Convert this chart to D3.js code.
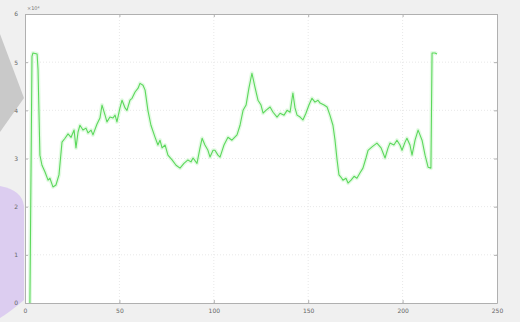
<!DOCTYPE html>
<html><head><meta charset="utf-8">
<script src="https://cdn.jsdelivr.net/npm/d3@7"></script>
<style>html,body{margin:0;padding:0;background:#f0f0f0;}svg{display:block;}</style>
</head><body>
<script>
const xTicks = [0, 50, 100, 150, 200, 250];
const yTicks = [0, 1, 2, 3, 4, 5, 6];
const yExponent = "×10⁴";
const xs = [2.6,3.7,4.2,6.4,6.9,7.9,9.0,10.6,12.2,13.2,14.8,16.4,18.0,19.6,21.2,22.8,24.4,26.0,27.0,28.1,
 29.1,30.7,32.3,33.4,35.0,36.0,38.1,39.7,40.8,42.4,43.4,45.0,46.6,47.7,48.7,50.3,51.4,53.0,54.0,55.6,
 56.7,58.3,59.9,60.9,62.5,63.6,65.1,66.7,68.9,70.4,71.5,72.6,74.2,75.7,77.9,80.0,82.1,84.2,86.3,87.9,
 89.0,91.1,92.7,93.8,95.3,96.9,98.0,99.6,100.6,102.2,103.3,105.4,107.5,109.6,112.3,113.9,115.5,117.1,118.6,120.2,
 121.8,123.4,125.0,126.1,127.6,129.8,131.4,133.5,135.1,137.2,138.8,140.4,141.9,143.0,144.1,145.7,147.2,148.8,150.4,152.0,
 153.6,155.2,156.3,158.4,160.0,161.5,163.1,164.2,165.3,166.3,167.4,168.4,170.0,171.1,172.7,174.3,175.8,177.4,179.0,180.6,
 181.7,183.8,186.4,188.6,190.7,192.3,193.3,195.4,197.0,198.6,199.7,201.3,202.3,203.9,205.0,206.6,208.2,209.2,210.3,211.9,
 213.5,215.0,215.6,217.2,218.2];
const ys = [0,5.12,5.19,5.17,4.85,3.07,2.86,2.72,2.55,2.59,2.41,2.45,2.66,3.34,3.42,3.51,3.44,3.59,3.22,3.55,
 3.69,3.59,3.63,3.53,3.59,3.49,3.71,3.84,4.11,3.90,3.76,3.86,3.84,3.90,3.76,4.05,4.21,4.05,4.00,4.21,
 4.25,4.38,4.46,4.56,4.52,4.42,4.00,3.69,3.44,3.28,3.38,3.22,3.28,3.07,2.97,2.86,2.80,2.90,2.97,2.93,
 3.01,2.90,3.22,3.42,3.28,3.17,3.03,3.17,3.17,3.07,3.03,3.28,3.44,3.38,3.49,3.69,4.00,4.11,4.46,4.77,
 4.48,4.21,4.11,3.94,4.00,4.07,3.96,3.86,3.94,3.90,4.00,3.96,4.36,4.05,3.90,3.86,3.80,3.94,4.11,4.25,
 4.17,4.21,4.15,4.11,4.07,3.90,3.69,3.38,2.97,2.66,2.61,2.55,2.59,2.49,2.55,2.63,2.59,2.70,2.80,3.01,
 3.17,3.24,3.32,3.22,3.01,3.22,3.32,3.28,3.38,3.28,3.17,3.34,3.42,3.28,3.07,3.38,3.59,3.49,3.38,3.07,
 2.82,2.80,5.19,5.19,5.17];

const W = 520, H = 322;
const svg = d3.select("body").append("svg").attr("width", W).attr("height", H);
svg.append("rect").attr("width", W).attr("height", H).attr("fill", "#f0f0f0");
// decorative shapes at the left edge of the screenshot
svg.append("path").attr("d", "M0,34 L24,98 L0,132 Z").attr("fill", "#c9c9c9");
svg.append("path").attr("d", "M0,186 Q22,190 24,206 L24,300 Q10,312 0,318 Z").attr("fill", "#dccdf0");

const m = {l: 25, r: 23, t: 14, b: 19};
const x = d3.scaleLinear().domain([0, 250]).range([m.l, W - m.r]);
const y = d3.scaleLinear().domain([0, 6]).range([H - m.b, m.t]);

svg.append("rect").attr("x", m.l).attr("y", m.t).attr("width", x(250) - x(0)).attr("height", y(0) - y(6))
  .attr("fill", "#ffffff");

// grid
svg.append("g").selectAll("line").data(xTicks.slice(1, -1)).join("line")
  .attr("x1", d => x(d)).attr("x2", d => x(d)).attr("y1", y(0)).attr("y2", y(6))
  .attr("stroke", "#e8e8e8").attr("stroke-width", 1).attr("stroke-dasharray", "1,2");
svg.append("g").selectAll("line").data(yTicks.slice(1, -1)).join("line")
  .attr("x1", x(0)).attr("x2", x(250)).attr("y1", d => y(d)).attr("y2", d => y(d))
  .attr("stroke", "#e8e8e8").attr("stroke-width", 1).attr("stroke-dasharray", "1,2");

// axes
const axStyle = g => {
  g.selectAll(".domain").attr("stroke", "#b0b0b0");
  g.selectAll(".tick line").attr("stroke", "#b0b0b0");
  g.selectAll(".tick text").attr("fill", "#666").attr("font-family", "DejaVu Sans, sans-serif").attr("font-size", 6);
};
const fmt = d3.format("d");
svg.append("g").attr("transform", `translate(0,${y(0)})`)
  .call(d3.axisBottom(x).tickValues(xTicks).tickFormat(fmt).tickSize(-3).tickPadding(6).tickSizeOuter(0)).call(axStyle);
svg.append("g").attr("transform", `translate(0,${y(6)})`)
  .call(d3.axisTop(x).tickValues(xTicks).tickSize(-3).tickFormat("").tickSizeOuter(0)).call(axStyle);
svg.append("g").attr("transform", `translate(${x(0)},0)`)
  .call(d3.axisLeft(y).tickValues(yTicks).tickFormat(fmt).tickSize(-3).tickPadding(7).tickSizeOuter(0)).call(axStyle);
svg.append("g").attr("transform", `translate(${x(250)},0)`)
  .call(d3.axisRight(y).tickValues(yTicks).tickSize(-3).tickFormat("").tickSizeOuter(0)).call(axStyle);

svg.append("text").attr("x", x(0) + 2).attr("y", y(6) - 4).text(yExponent)
  .attr("fill", "#777").attr("font-family", "DejaVu Sans, sans-serif").attr("font-size", 5);

// series
const pts = xs.map((v, i) => [v, ys[i]]);
const line = d3.line().x(d => x(d[0])).y(d => y(d[1]));
svg.append("path").datum(pts).attr("d", line).attr("fill", "none")
  .attr("stroke", "#d2f6d2").attr("stroke-width", 4).attr("stroke-opacity", 0.6).attr("stroke-linejoin", "round");
svg.append("path").datum(pts).attr("d", line).attr("fill", "none")
  .attr("stroke", "#5cd85c").attr("stroke-width", 1.1).attr("stroke-linejoin", "round");
</script>
</body></html>
